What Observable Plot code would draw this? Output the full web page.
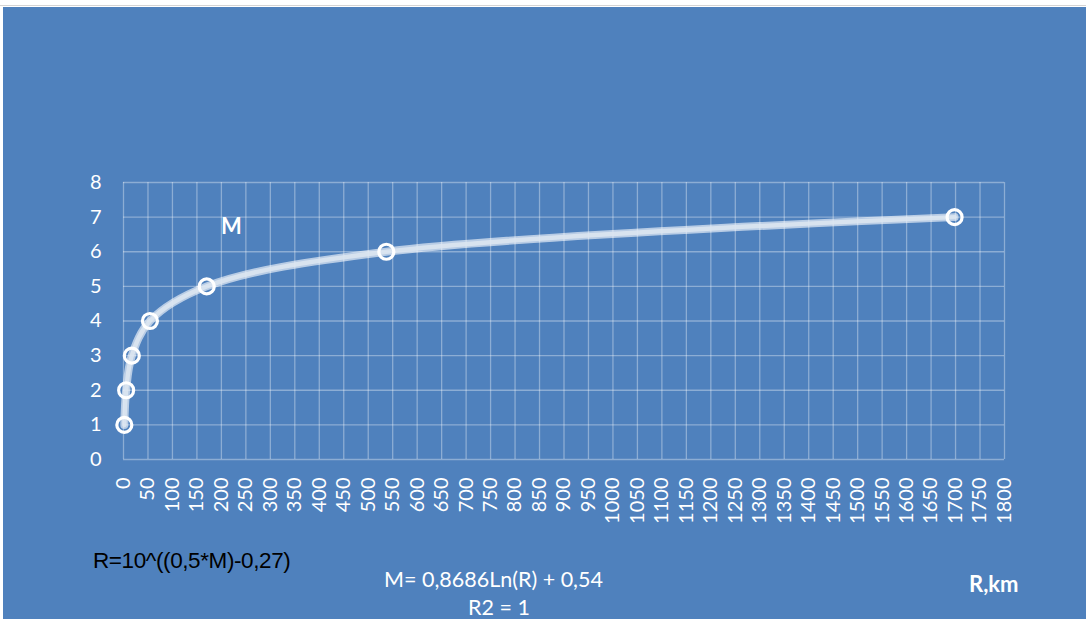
<!DOCTYPE html>
<html>
<head>
<meta charset="utf-8">
<script src="https://cdn.jsdelivr.net/npm/d3@7"></script>
<script src="https://cdn.jsdelivr.net/npm/@observablehq/plot@0.6"></script>
<style>
  html, body { margin: 0; padding: 0; background: #ffffff; width: 1086px; height: 619px; overflow: hidden; }
  #topline { position: absolute; left: 0; top: 5px; width: 1086px; height: 1px; background: #d4d4d4; }
  #panel { position: absolute; left: 3px; top: 7px; width: 1083px; height: 612px; background: #4f81bd; }
  #chart { position: absolute; left: 0; top: 0; }
  .lbl { position: absolute; white-space: nowrap; line-height: 1; }
</style>
</head>
<body>
<div id="topline"></div>
<div id="panel"></div>
<div id="chart"></div>
<div class="lbl" style="left:221px; top:215px; font-family:Lato, sans-serif; font-weight:bold; font-size:22px; color:#fff;">M</div>
<div class="lbl" style="left:93px; top:550px; font-family:'Liberation Sans', Arial, sans-serif; font-size:22.5px; color:#000; letter-spacing:-0.4px;">R=10^((0,5*M)-0,27)</div>
<div class="lbl" style="left:384px; top:569px; font-family:Lato, sans-serif; font-size:21.5px; color:#fff;">M= 0,8686Ln(R) + 0,54</div>
<div class="lbl" style="left:468px; top:597px; font-family:Lato, sans-serif; font-size:21.5px; color:#fff;">R2 = 1</div>
<div class="lbl" style="left:969px; top:573px; font-family:Lato, sans-serif; font-weight:bold; font-size:22px; color:#fff;">R,km</div>
<script>
// Data: magnitude M vs distance R (km)
const magnitudes = [1, 2, 3, 4, 5, 6, 7];
const distances = [1.7, 5.4, 17, 54, 170, 537, 1698];
const xTicks = d3.range(0, 1801, 50);
const yTicks = [0, 1, 2, 3, 4, 5, 6, 7, 8];

const data = magnitudes.map((m, i) => ({R: distances[i], M: m}));

const plot = Plot.plot({
  width: 1086,
  height: 619,
  marginLeft: 123,
  marginRight: 82,
  marginTop: 182,
  marginBottom: 160,
  style: {background: "transparent", color: "#ffffff", fontFamily: "Lato, sans-serif", overflow: "visible"},
  x: {domain: [0, 1800], ticks: xTicks, label: null},
  y: {domain: [0, 8], ticks: yTicks, label: null},
  marks: [
    Plot.gridX(xTicks, {stroke: "#ffffff", strokeOpacity: 0.35, strokeWidth: 1.3}),
    Plot.gridY(yTicks, {stroke: "#ffffff", strokeOpacity: 0.35, strokeWidth: 1.3}),
    Plot.axisX({ticks: xTicks, tickSize: 0, tickPadding: 18, tickRotate: -90, tickFormat: d => String(d), label: null}),
    Plot.axisY({ticks: yTicks, tickSize: 0, tickPadding: 22, tickFormat: d => String(d), label: null}),
    Plot.line(data, {x: "R", y: "M", curve: "catmull-rom", stroke: "#ffffff", strokeOpacity: 0.6, strokeWidth: 8}),
    Plot.line(data, {x: "R", y: "M", curve: "catmull-rom", stroke: "#dde6f1", strokeOpacity: 0.85, strokeWidth: 4.5}),
    Plot.dot(data, {x: "R", y: "M", r: 7.5, stroke: "#ffffff", strokeWidth: 3.2, fill: "none"})
  ]
});
plot.querySelectorAll("text").forEach(t => { t.style.fontSize = "20px"; });
plot.querySelectorAll("g").forEach(g => { if (g.getAttribute("font-size")) g.setAttribute("font-size", "20"); });
document.getElementById("chart").appendChild(plot);
</script>
</body>
</html>
